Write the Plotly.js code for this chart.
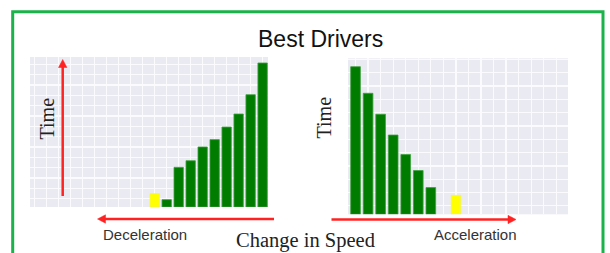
<!DOCTYPE html>
<html>
<head>
<meta charset="utf-8">
<script src="https://cdn.plot.ly/plotly-3.0.1.min.js"></script>
<style>html,body{margin:0;padding:0;background:#fff;}#chart{width:610px;height:253px;}</style>
</head>
<body>
<div id="chart"></div>
<script>
// Left panel (deceleration): slot index and bar heights (grid units)
const leftYellowX = [10];
const leftYellowY = [1.29];
const leftGreenX = [11, 12, 13, 14, 15, 16, 17, 18, 19];
const leftGreenY = [0.71, 3.84, 4.48, 5.81, 6.52, 7.74, 9.0, 10.87, 13.94];

// Right panel (acceleration)
const rightGreenX = [0, 1, 2, 3, 4, 5, 6];
const rightGreenY = [11.1, 9.1, 7.52, 5.96, 4.49, 3.29, 2.01];
const rightYellowX = [8];
const rightYellowY = [1.43];

const titleText = "Best Drivers";
const yLabel = "Time";
const xLabel = "Change in Speed";
const leftLabel = "Deceleration";
const rightLabel = "Acceleration";

const W = 610, H = 253;
const px = v => v / W;
const py = v => 1 - v / H;

const green = '#007c00';
const greenLine = '#3f9f3f';
const yellow = '#ffff00';

const traces = [
  {type:'bar', x:leftYellowX, y:leftYellowY, xaxis:'x', yaxis:'y', width:0.78,
   marker:{color:yellow, line:{color:'#f0f060', width:0.6}}, hoverinfo:'skip'},
  {type:'bar', x:leftGreenX, y:leftGreenY, xaxis:'x', yaxis:'y', width:0.78,
   marker:{color:green, line:{color:greenLine, width:0.8}}, hoverinfo:'skip'},
  {type:'bar', x:rightGreenX, y:rightGreenY, xaxis:'x2', yaxis:'y2', width:0.77,
   marker:{color:green, line:{color:greenLine, width:0.8}}, hoverinfo:'skip'},
  {type:'bar', x:rightYellowX, y:rightYellowY, xaxis:'x2', yaxis:'y2', width:0.77,
   marker:{color:yellow, line:{color:'#f0f060', width:0.6}}, hoverinfo:'skip'}
];

const axCommon = {showticklabels:false, ticks:'', zeroline:false, showline:false,
  showgrid:true, gridcolor:'#fbfbfd', gridwidth:1.3, fixedrange:true};

const red = '#ff2222';
const shapes = [
  // slide border
  {type:'rect', xref:'paper', yref:'paper', x0:px(12.7), x1:px(603), y0:py(11.7), y1:py(270),
   line:{color:'#1bb24a', width:3}, fillcolor:'rgba(0,0,0,0)', layer:'above'},
  // left vertical arrow
  {type:'line', xref:'paper', yref:'paper', x0:px(62.7), x1:px(62.7), y0:py(196), y1:py(66),
   line:{color:red, width:2.5}},
  {type:'path', xref:'paper', yref:'paper',
   path:`M ${px(62.7)} ${py(59.5)} L ${px(58.5)} ${py(67.5)} L ${px(66.9)} ${py(67.5)} Z`,
   fillcolor:red, line:{color:red, width:0.5}},
  // left horizontal arrow
  {type:'line', xref:'paper', yref:'paper', x0:px(274), x1:px(104), y0:py(219), y1:py(219),
   line:{color:red, width:2.5}},
  {type:'path', xref:'paper', yref:'paper',
   path:`M ${px(97.5)} ${py(219)} L ${px(105.5)} ${py(214.8)} L ${px(105.5)} ${py(223.2)} Z`,
   fillcolor:red, line:{color:red, width:0.5}},
  // right horizontal arrow
  {type:'line', xref:'paper', yref:'paper', x0:px(331.5), x1:px(509), y0:py(219.5), y1:py(219.5),
   line:{color:red, width:2.5}},
  {type:'path', xref:'paper', yref:'paper',
   path:`M ${px(516)} ${py(219.5)} L ${px(508)} ${py(215.3)} L ${px(508)} ${py(223.7)} Z`,
   fillcolor:red, line:{color:red, width:0.5}}
];

const serif = '"Liberation Serif", "DejaVu Serif", serif';
const sans = '"Liberation Sans", Arial, sans-serif';
const annotations = [
  {text:titleText, xref:'paper', yref:'paper', x:px(320), y:py(39), showarrow:false,
   xanchor:'center', yanchor:'middle', font:{family:sans, size:23, color:'#111'}},
  {text:yLabel, xref:'paper', yref:'paper', x:px(46.5), y:py(119), showarrow:false, textangle:-90,
   xanchor:'center', yanchor:'middle', font:{family:serif, size:20, color:'#222'}},
  {text:yLabel, xref:'paper', yref:'paper', x:px(323), y:py(117.5), showarrow:false, textangle:-90,
   xanchor:'center', yanchor:'middle', font:{family:serif, size:20, color:'#222'}},
  {text:xLabel, xref:'paper', yref:'paper', x:px(305.5), y:py(240), showarrow:false,
   xanchor:'center', yanchor:'middle', font:{family:serif, size:20.5, color:'#222'}},
  {text:leftLabel, xref:'paper', yref:'paper', x:px(145), y:py(234), showarrow:false,
   xanchor:'center', yanchor:'middle', font:{family:sans, size:15, color:'#333'}},
  {text:rightLabel, xref:'paper', yref:'paper', x:px(475.5), y:py(234), showarrow:false,
   xanchor:'center', yanchor:'middle', font:{family:sans, size:15, color:'#333'}}
];

const layout = {
  width:W, height:H,
  margin:{l:0, r:0, t:0, b:0, pad:0},
  paper_bgcolor:'#ffffff',
  plot_bgcolor:'#eaeaf2',
  showlegend:false,
  barmode:'overlay',
  xaxis:Object.assign({}, axCommon, {domain:[px(30), px(268)], range:[-0.4, 19.45], tick0:0, dtick:1, anchor:'y'}),
  yaxis:Object.assign({}, axCommon, {domain:[py(207), py(57)], range:[0, 14.52], tick0:0.8, dtick:1, anchor:'x'}),
  xaxis2:Object.assign({}, axCommon, {domain:[px(348), px(568)], range:[-0.6, 16.93], tick0:0, dtick:1, anchor:'y2'}),
  yaxis2:Object.assign({}, axCommon, {domain:[py(214.3), py(58.3)], range:[0, 11.73], tick0:0.64, dtick:1, anchor:'x2'}),
  shapes:shapes,
  annotations:annotations
};

Plotly.newPlot('chart', traces, layout, {staticPlot:true, displayModeBar:false});
</script>
</body>
</html>
